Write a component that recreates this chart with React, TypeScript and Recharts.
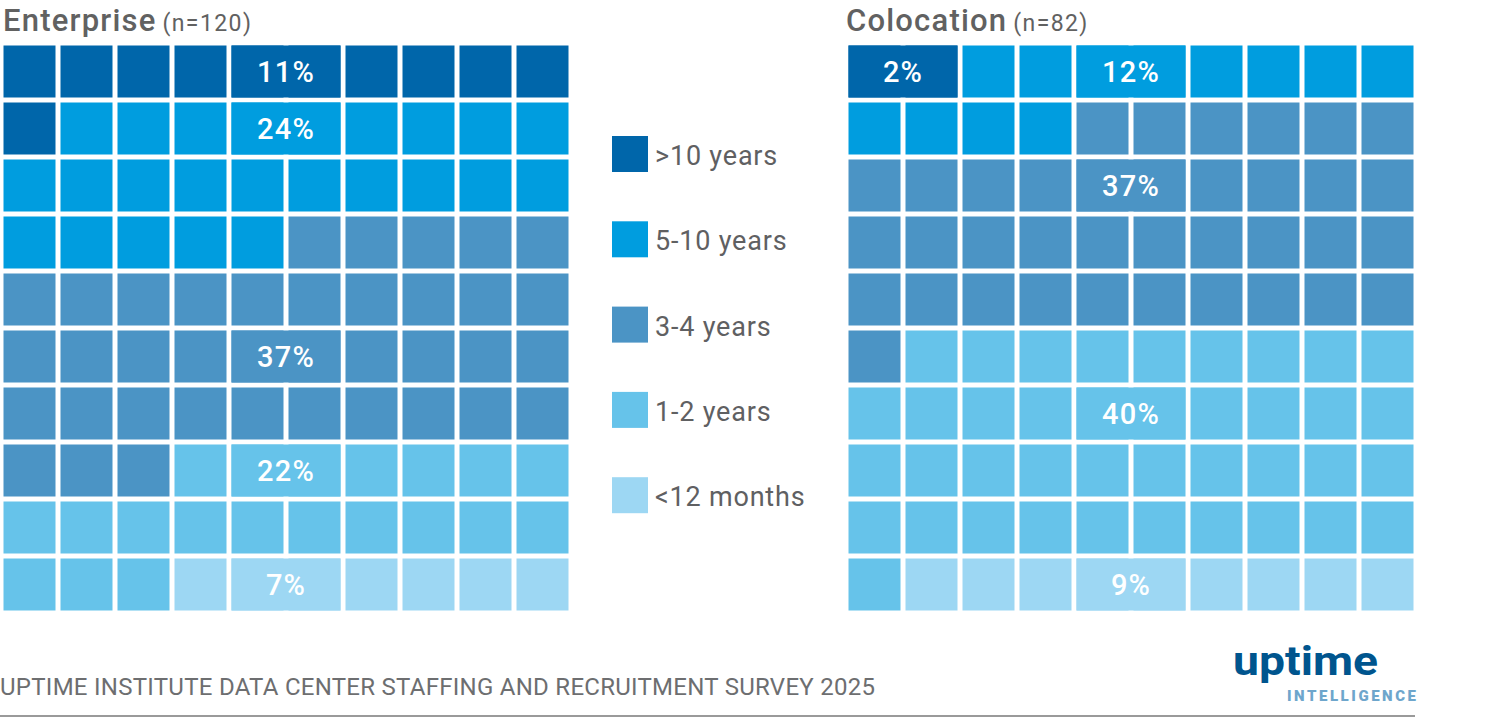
import React from 'react';
import { ScatterChart, Scatter, XAxis, YAxis } from 'recharts';

const categories = ['>10 years', '5-10 years', '3-4 years', '1-2 years', '<12 months'];
const colors = ['#0066aa', '#009ddf', '#4b94c5', '#66c3ea', '#9dd7f3'];

// squares per category (10x10 grid, filled row by row)
const enterpriseCells = [11, 24, 38, 20, 7];
const enterpriseShares = ['11%', '24%', '37%', '22%', '7%'];
const enterpriseLabelRows = [0, 1, 5, 7, 9];
const enterpriseLabelCols = [4, 4, 4, 4, 4];

const colocationCells = [2, 12, 37, 40, 9];
const colocationShares = ['2%', '12%', '37%', '40%', '9%'];
const colocationLabelRows = [0, 0, 2, 6, 9];
const colocationLabelCols = [0, 4, 4, 4, 4];

const GRID = 10;
const PITCH = 57;
const CELL = 52;
const FONT = 'Roboto, "DejaVu Sans", sans-serif';

function buildCells(counts: number[]) {
  const out: { x: number; y: number; cat: number }[] = [];
  let i = 0;
  counts.forEach((n, cat) => {
    for (let k = 0; k < n; k++, i++) {
      out.push({ x: (i % GRID) + 0.5, y: Math.floor(i / GRID) + 0.5, cat });
    }
  });
  return out;
}

function buildLabels(shares: string[], rows: number[], cols: number[]) {
  return shares.map((label, cat) => ({ x: cols[cat] + 1, y: rows[cat] + 0.5, cat, label }));
}

const CellShape = (props: any) => {
  const { cx, cy, payload } = props;
  return (
    <rect x={cx - CELL / 2} y={cy - CELL / 2} width={CELL} height={CELL} fill={colors[payload.cat]} />
  );
};

const LabelShape = (props: any) => {
  const { cx, cy, payload } = props;
  const w = PITCH + CELL;
  return (
    <g>
      <rect x={cx - w / 2} y={cy - CELL / 2} width={w} height={CELL} fill={colors[payload.cat]} />
      <text
        x={cx}
        y={cy + 10}
        textAnchor="middle"
        fill="#ffffff"
        fontSize={29}
        fontWeight={500}
        letterSpacing={1.2}
        fontFamily={FONT}
      >
        {payload.label}
      </text>
    </g>
  );
};

function Waffle({ cells, labels, left, top }: any) {
  const size = GRID * PITCH;
  return (
    <div style={{ position: 'absolute', left, top }}>
      <ScatterChart width={size} height={size} margin={{ top: 0, right: 0, bottom: 0, left: 0 }}>
        <XAxis type="number" dataKey="x" domain={[0, GRID]} hide />
        <YAxis type="number" dataKey="y" domain={[0, GRID]} reversed hide />
        <Scatter data={cells} shape={<CellShape />} isAnimationActive={false} />
        <Scatter data={labels} shape={<LabelShape />} isAnimationActive={false} />
      </ScatterChart>
    </div>
  );
}

export default function App() {
  const entCells = buildCells(enterpriseCells);
  const entLabels = buildLabels(enterpriseShares, enterpriseLabelRows, enterpriseLabelCols);
  const colCells = buildCells(colocationCells);
  const colLabels = buildLabels(colocationShares, colocationLabelRows, colocationLabelCols);

  return (
    <div
      style={{
        position: 'absolute',
        left: 0,
        top: 0,
        width: 1490,
        height: 722,
        background: '#ffffff',
        fontFamily: FONT,
      }}
    >
      <svg width={1490} height={722} style={{ position: 'absolute', left: 0, top: 0 }}>
        <text x={3} y={31} fill="#616161" fontSize={31} fontWeight={500} letterSpacing={1.2} fontFamily={FONT}>
          Enterprise
          <tspan dx={6} fontSize={23} fontWeight={400} letterSpacing={1.4}>(n=120)</tspan>
        </text>
        <text x={846} y={31} fill="#616161" fontSize={31} fontWeight={500} letterSpacing={1.2} fontFamily={FONT}>
          Colocation
          <tspan dx={6} fontSize={23} fontWeight={400} letterSpacing={1.4}>(n=82)</tspan>
        </text>

        {categories.map((c, i) => {
          const y = 136 + i * 85.3;
          return (
            <g key={c}>
              <rect x={612} y={y} width={36} height={36} fill={colors[i]} />
              <text x={655} y={y + 29} fill="#5f6062" fontSize={27} letterSpacing={0.8} fontFamily={FONT}>
                {c}
              </text>
            </g>
          );
        })}

        <text
          x={0}
          y={695}
          fill="#6d6e70"
          fontSize={24}
          fontFamily={FONT}
          textLength={875}
          lengthAdjust="spacing"
        >
          UPTIME INSTITUTE DATA CENTER STAFFING AND RECRUITMENT SURVEY 2025
        </text>
        <line x1={0} x2={1415} y1={716} y2={716} stroke="#9a9a9a" strokeWidth={2} />

        <text
          x={1233}
          y={675}
          fill="#00558e"
          fontSize={41}
          fontWeight={700}
          fontFamily={FONT}
          textLength={145}
          lengthAdjust="spacingAndGlyphs"
        >
          uptime
        </text>
        <text
          x={1287}
          y={701}
          fill="#6ea6cc"
          fontSize={15}
          fontWeight={900}
          fontFamily={FONT}
          textLength={129}
          lengthAdjust="spacing"
        >
          INTELLIGENCE
        </text>
      </svg>

      <Waffle cells={entCells} labels={entLabels} left={0.5} top={42.5} />
      <Waffle cells={colCells} labels={colLabels} left={845.5} top={42.5} />
    </div>
  );
}
